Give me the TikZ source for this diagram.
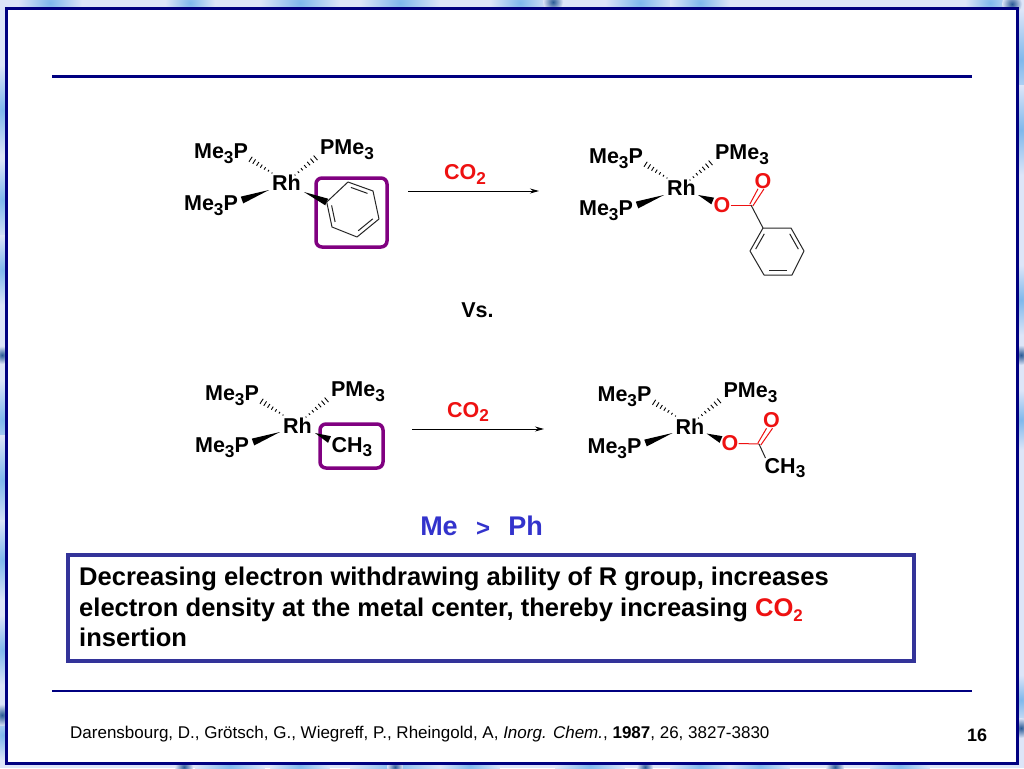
\documentclass[tikz,border=0pt]{standalone}
\usepackage{fontspec}
\setmainfont{Liberation Sans}
\usetikzlibrary{calc,arrows.meta}
\definecolor{navyrule}{HTML}{000080}
\definecolor{boxblue}{HTML}{333399}
\definecolor{chemred}{HTML}{EE1111}
\definecolor{purplebox}{HTML}{800080}
\definecolor{meblue}{HTML}{3333CC}
\definecolor{edgebg}{HTML}{DDE5F8}
\definecolor{spot}{HTML}{7FB8EC}
\definecolor{darkspot}{HTML}{2A5A95}
\newcommand{\lowsub}[1]{\raisebox{-0.22em}{\fontsize{0.8em}{1em}\selectfont #1}}
\newcommand{\smallsub}[1]{\raisebox{-0.2em}{\fontsize{0.66em}{1em}\selectfont #1}}
\newcommand{\wedgebond}[2]{\fill[bondink] (#1) -- ($(#2)!3.6pt!90:(#1)$) -- ($(#2)!3.6pt!-90:(#1)$) -- cycle;}
\newcommand{\hashbond}[2]{\foreach \t/\w in {0/0.6,1/1.0,2/1.4,3/1.8,4/2.2,5/2.6,6/3.0,7/3.4}{
  \draw[bondink,line width=0.9pt] ($($(#1)!\t/7!(#2)$)!\w pt!90:(#2)$) -- ($($(#1)!\t/7!(#2)$)!\w pt!-90:(#2)$);}}
\newcommand{\innerbond}[3]{\draw[bond] ($($(#1)!.17!(#3)$)!.1!($(#2)!.17!(#3)$)$) -- ($($(#1)!.17!(#3)$)!.9!($(#2)!.17!(#3)$)$);}
\tikzset{
  x=1pt,y=-1pt,
  bondink/.style={black},
  chem/.style={font=\bfseries\fontsize{21.5}{25}\selectfont,inner sep=0pt,text=black},
  redchem/.style={chem,text=chemred},
  bond/.style={line width=1pt,draw=black!85},
  redbond/.style={line width=1pt,draw=chemred},
  selbox/.style={draw=purplebox,line width=3.5pt,rounded corners=6pt},
  rxn/.style={line width=1pt,-{Stealth[length=9pt,width=5pt]}},
  ruleline/.style={draw=navyrule},
  spotfill/.style={inner color=spot,outer color=edgebg,draw=none},
  darkfill/.style={inner color=darkspot,outer color=edgebg,draw=none},
  noteline/.style={anchor=base west,inner sep=0pt,font=\bfseries\fontsize{25.55}{30}\selectfont},
}
\begin{document}
\begin{tikzpicture}
\useasboundingbox (0,0) rectangle (1024,768);
% page edge
\fill[edgebg] (0,0) rectangle (1024,768);
\foreach \cx/\cy/\rr in {50/3/32,190/3/25,300/3/40,400/3/40,520/3/30,640/3/35,700/3/30,990/3/25,
  3/110/45,3/200/40,3/270/35,3/420/40,3/480/45,3/560/40,3/650/35,3/735/25,
  1021/60/50,1021/130/45,1021/300/35,1021/420/30,1021/700/25,
  230/765/35,300/765/30,395/765/45,470/765/30,590/765/35,700/765/30,760/765/30,900/765/30}{
  \shade[spotfill] (\cx,\cy) circle[radius=\rr];}
\foreach \cx/\cy/\rr in {553/2/10,1012/4/10,2/355/9,2/715/11,1021/355/10,1021/728/10,184/767/9,395/767/8,645/767/8,835/767/9}{
  \shade[darkfill] (\cx,\cy) circle[radius=\rr];}
\filldraw[fill=white,draw=navyrule,line width=3pt] (6.5,8.5) rectangle (1017,763.5);
\coordinate (ruleTopL) at (52,76); \coordinate (ruleTopR) at (972,76);
\coordinate (ruleBotL) at (52,691); \coordinate (ruleBotR) at (972,691);
\draw[ruleline,line width=3pt] (ruleTopL) -- (ruleTopR);
\draw[ruleline,line width=2pt] (ruleBotL) -- (ruleBotR);

% ---------- reaction 1, left
\node[chem] (rh1) at (286.5,183) {Rh};
\node[chem] (p1a) at (221,154) {Me\lowsub{3}P};
\node[chem] (p1b) at (347,150) {PMe\lowsub{3}};
\node[chem] (p1c) at (211,205.5) {Me\lowsub{3}P};
\draw[selbox] (316,178) rectangle (387,247);
\coordinate (h1a) at (272,173); \coordinate (h1at) at (247,157);
\coordinate (h1b) at (295,175); \coordinate (h1bt) at (319,155);
\coordinate (w1c) at (269,190); \coordinate (w1ct) at (242,200);
\coordinate (w1d) at (304,192);
\coordinate (a1) at (326.7,202); \coordinate (a2) at (348,182); \coordinate (a3) at (373,191);
\coordinate (a4) at (379,219); \coordinate (a5) at (357,237); \coordinate (a6) at (332,227);
\coordinate (actr) at (352.8,209.5);
\hashbond{h1a}{h1at} \hashbond{h1b}{h1bt} \wedgebond{w1c}{w1ct} \wedgebond{w1d}{a1}
\draw[bond,line join=round] (a1) -- (a2) -- (a3) -- (a4) -- (a5) -- (a6) -- cycle;
\innerbond{a1}{a6}{actr}
\innerbond{a2}{a3}{actr}
\innerbond{a4}{a5}{actr}

% arrow 1
\coordinate (arr1s) at (408,191); \coordinate (arr1e) at (539,191);
\draw[rxn] (arr1s) -- (arr1e);
\node[redchem] (co2a) at (465,174.5) {CO\lowsub{2}};

% ---------- reaction 1, right
\node[chem] (rh2) at (681.5,188) {Rh};
\node[chem] (p2a) at (616,159) {Me\lowsub{3}P};
\node[chem] (p2b) at (742,155) {PMe\lowsub{3}};
\node[chem] (p2c) at (606,210.5) {Me\lowsub{3}P};
\node[redchem] (o2a) at (722,205) {O};
\node[redchem] (o2b) at (763,181) {O};
\coordinate (h2a) at (667,178); \coordinate (h2at) at (642,162);
\coordinate (h2b) at (690,180); \coordinate (h2bt) at (714,160);
\coordinate (w2c) at (664,195); \coordinate (w2ct) at (637,205);
\coordinate (w2d) at (698,195); \coordinate (w2dt) at (712.7,201);
\hashbond{h2a}{h2at} \hashbond{h2b}{h2bt} \wedgebond{w2c}{w2ct} \wedgebond{w2d}{w2dt}
\coordinate (c2) at (751,205);
\coordinate (b1) at (763,228); \coordinate (b2) at (791,228); \coordinate (b3) at (804,251);
\coordinate (b4) at (792,275); \coordinate (b5) at (764,275); \coordinate (b6) at (750,251);
\coordinate (bctr) at (777,251);
\draw[redbond] (o2a.east) -- (c2);
\draw[redbond] ($(c2)+(1.8,1)$) -- ($(o2b.south)+(1,0)$);
\draw[redbond] ($(c2)+(-1.2,-0.8)$) -- ($(o2b.south)+(-5,0)$);
\draw[bond] (c2) -- (b1);
\draw[bond,line join=round] (b1) -- (b2) -- (b3) -- (b4) -- (b5) -- (b6) -- cycle;
\innerbond{b1}{b6}{bctr}
\innerbond{b2}{b3}{bctr}
\innerbond{b4}{b5}{bctr}

\node[chem] (vs) at (477.5,310) {Vs.};

% ---------- reaction 2, left
\node[chem] (rh3) at (297.5,425.5) {Rh};
\node[chem] (p3a) at (232,396) {Me\lowsub{3}P};
\node[chem] (p3b) at (358,392) {PMe\lowsub{3}};
\node[chem] (p3c) at (222,447.5) {Me\lowsub{3}P};
\draw[selbox] (320,424) rectangle (383,468);
\node[chem] (ch3a) at (352,447) {CH\lowsub{3}};
\coordinate (h3a) at (283,415); \coordinate (h3at) at (258,399);
\coordinate (h3b) at (306,417); \coordinate (h3bt) at (330,397);
\coordinate (w3c) at (280,432); \coordinate (w3ct) at (253,442);
\coordinate (w3d) at (315,433); \coordinate (w3dt) at (329.5,439.5);
\hashbond{h3a}{h3at} \hashbond{h3b}{h3bt} \wedgebond{w3c}{w3ct} \wedgebond{w3d}{w3dt}

% arrow 2
\coordinate (arr2s) at (412,429); \coordinate (arr2e) at (544,429);
\draw[rxn] (arr2s) -- (arr2e);
\node[redchem] (co2b) at (468,412) {CO\lowsub{2}};

% ---------- reaction 2, right
\node[chem] (rh4) at (690,426.5) {Rh};
\node[chem] (p4a) at (624.5,397) {Me\lowsub{3}P};
\node[chem] (p4b) at (750.5,393) {PMe\lowsub{3}};
\node[chem] (p4c) at (614.5,448.5) {Me\lowsub{3}P};
\node[redchem] (o4a) at (730,443.5) {O};
\node[redchem] (o4b) at (771.5,420.5) {O};
\node[chem] (ch3b) at (785,468) {CH\lowsub{3}};
\coordinate (h4a) at (675.5,416); \coordinate (h4at) at (650.5,400);
\coordinate (h4b) at (698.5,418); \coordinate (h4bt) at (722.5,398);
\coordinate (w4c) at (672.5,433); \coordinate (w4ct) at (645.5,443);
\coordinate (w4d) at (706.5,433.5); \coordinate (w4dt) at (721,439.5);
\hashbond{h4a}{h4at} \hashbond{h4b}{h4bt} \wedgebond{w4c}{w4ct} \wedgebond{w4d}{w4dt}
\coordinate (c4) at (759,444); \coordinate (c4end) at (765.5,458);
\draw[redbond] (o4a.east) -- (c4);
\draw[redbond] ($(c4)+(1.8,1)$) -- ($(o4b.south)+(1,0)$);
\draw[redbond] ($(c4)+(-1.2,-0.8)$) -- ($(o4b.south)+(-5,0)$);
\draw[bond] (c4) -- (c4end);

% ---------- Me > Ph
\node[inner sep=0pt,text=meblue,font=\bfseries\fontsize{27}{30}\selectfont] (me) at (439,526) {Me};
\node[inner sep=0pt,text=meblue,font=\bfseries\fontsize{24}{26}\selectfont] (gt) at (483,529) {>};
\node[inner sep=0pt,text=meblue,font=\bfseries\fontsize{27}{30}\selectfont] (ph) at (525.5,526) {Ph};

% ---------- text box
\node[draw=boxblue,line width=4pt,fill=white,anchor=north west,minimum width=846pt,minimum height=106pt,inner sep=0pt] (note) at (66,553) {};
\node[noteline] (l1) at (79,585.5) {Decreasing electron withdrawing ability of R group, increases};
\node[noteline] (l2) at (79,616) {electron density at the metal center, thereby increasing {\color{chemred}CO\smallsub{2}}};
\node[noteline] (l3) at (79,646.5) {insertion};

% ---------- footer
\node[anchor=base west,inner sep=0pt,font=\fontsize{17}{20}\selectfont] (cite) at (70,738.5)
 {Darensbourg, D., Grötsch, G., Wiegreff, P., Rheingold, A, \textit{Inorg. Chem.}, \textbf{1987}, 26, 3827-3830};
\node[inner sep=0pt,font=\bfseries\fontsize{18}{22}\selectfont] (pg) at (977,735) {16};
\end{tikzpicture}
\end{document}
